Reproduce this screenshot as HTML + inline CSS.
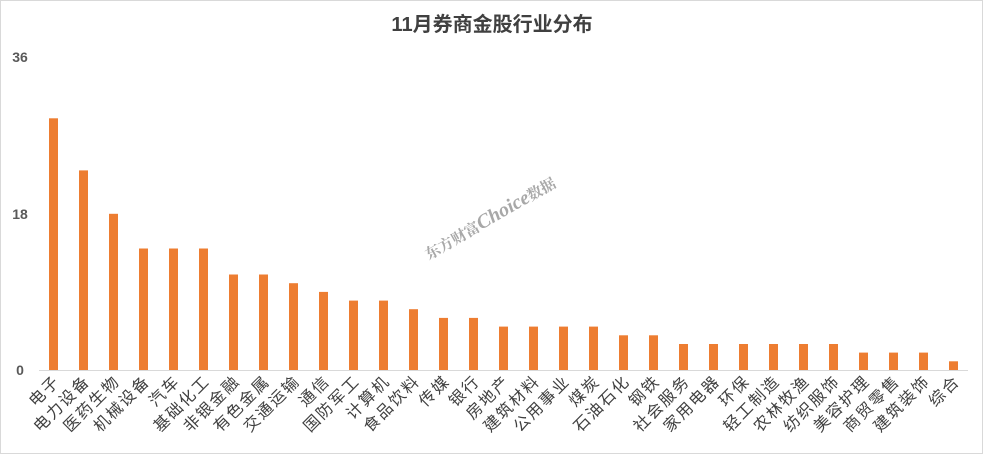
<!DOCTYPE html>
<html><head><meta charset="utf-8"><style>
body{margin:0;background:#fff}
svg{display:block;font-family:"Liberation Sans","Noto Sans CJK SC",sans-serif}
</style></head><body>
<svg width="983" height="454" viewBox="0 0 983 454">
<rect x="0.5" y="0.5" width="982" height="453" fill="#fff" stroke="#d9d9d9"/>
<text x="492" y="31" text-anchor="middle" font-size="20" font-weight="bold" fill="#404040">11月券商金股行业分布</text>
<g font-size="14" font-weight="bold" fill="#595959" text-anchor="middle">
<text x="20" y="62">36</text><text x="20" y="219">18</text><text x="20" y="375">0</text>
</g>
<line x1="39" y1="370.5" x2="968" y2="370.5" stroke="#d9d9d9" stroke-width="1"/>
<g transform="translate(490,218) rotate(-30)" fill="#a8a8a8" font-weight="bold" text-anchor="middle">
<text x="0" y="6" font-size="15" font-family="Liberation Serif,Noto Serif CJK SC,serif">东方财富<tspan font-size="20" font-style="italic">Choice</tspan>数据</text>
</g>
<g fill="#ed7d31">
<rect x="49" y="118.3" width="9" height="251.7"/>
<rect x="79" y="170.4" width="9" height="199.6"/>
<rect x="109" y="213.8" width="9" height="156.2"/>
<rect x="139" y="248.5" width="9" height="121.5"/>
<rect x="169" y="248.5" width="9" height="121.5"/>
<rect x="199" y="248.5" width="9" height="121.5"/>
<rect x="229" y="274.5" width="9" height="95.5"/>
<rect x="259" y="274.5" width="9" height="95.5"/>
<rect x="289" y="283.2" width="9" height="86.8"/>
<rect x="319" y="291.9" width="9" height="78.1"/>
<rect x="349" y="300.6" width="9" height="69.4"/>
<rect x="379" y="300.6" width="9" height="69.4"/>
<rect x="409" y="309.2" width="9" height="60.8"/>
<rect x="439" y="317.9" width="9" height="52.1"/>
<rect x="469" y="317.9" width="9" height="52.1"/>
<rect x="499" y="326.6" width="9" height="43.4"/>
<rect x="529" y="326.6" width="9" height="43.4"/>
<rect x="559" y="326.6" width="9" height="43.4"/>
<rect x="589" y="326.6" width="9" height="43.4"/>
<rect x="619" y="335.3" width="9" height="34.7"/>
<rect x="649" y="335.3" width="9" height="34.7"/>
<rect x="679" y="344" width="9" height="26"/>
<rect x="709" y="344" width="9" height="26"/>
<rect x="739" y="344" width="9" height="26"/>
<rect x="769" y="344" width="9" height="26"/>
<rect x="799" y="344" width="9" height="26"/>
<rect x="829" y="344" width="9" height="26"/>
<rect x="859" y="352.6" width="9" height="17.4"/>
<rect x="889" y="352.6" width="9" height="17.4"/>
<rect x="919" y="352.6" width="9" height="17.4"/>
<rect x="949" y="361.3" width="9" height="8.7"/>
</g>
<g font-size="16" letter-spacing="2" fill="#404040" text-anchor="end">
<text transform="translate(61,382) rotate(-45)">电子</text>
<text transform="translate(91,382) rotate(-45)">电力设备</text>
<text transform="translate(121,382) rotate(-45)">医药生物</text>
<text transform="translate(151,382) rotate(-45)">机械设备</text>
<text transform="translate(181,382) rotate(-45)">汽车</text>
<text transform="translate(211,382) rotate(-45)">基础化工</text>
<text transform="translate(241,382) rotate(-45)">非银金融</text>
<text transform="translate(271,382) rotate(-45)">有色金属</text>
<text transform="translate(301,382) rotate(-45)">交通运输</text>
<text transform="translate(331,382) rotate(-45)">通信</text>
<text transform="translate(361,382) rotate(-45)">国防军工</text>
<text transform="translate(391,382) rotate(-45)">计算机</text>
<text transform="translate(421,382) rotate(-45)">食品饮料</text>
<text transform="translate(451,382) rotate(-45)">传媒</text>
<text transform="translate(481,382) rotate(-45)">银行</text>
<text transform="translate(511,382) rotate(-45)">房地产</text>
<text transform="translate(541,382) rotate(-45)">建筑材料</text>
<text transform="translate(571,382) rotate(-45)">公用事业</text>
<text transform="translate(601,382) rotate(-45)">煤炭</text>
<text transform="translate(631,382) rotate(-45)">石油石化</text>
<text transform="translate(661,382) rotate(-45)">钢铁</text>
<text transform="translate(691,382) rotate(-45)">社会服务</text>
<text transform="translate(721,382) rotate(-45)">家用电器</text>
<text transform="translate(751,382) rotate(-45)">环保</text>
<text transform="translate(781,382) rotate(-45)">轻工制造</text>
<text transform="translate(811,382) rotate(-45)">农林牧渔</text>
<text transform="translate(841,382) rotate(-45)">纺织服饰</text>
<text transform="translate(871,382) rotate(-45)">美容护理</text>
<text transform="translate(901,382) rotate(-45)">商贸零售</text>
<text transform="translate(931,382) rotate(-45)">建筑装饰</text>
<text transform="translate(961,382) rotate(-45)">综合</text>
</g>
</svg>
</body></html>
